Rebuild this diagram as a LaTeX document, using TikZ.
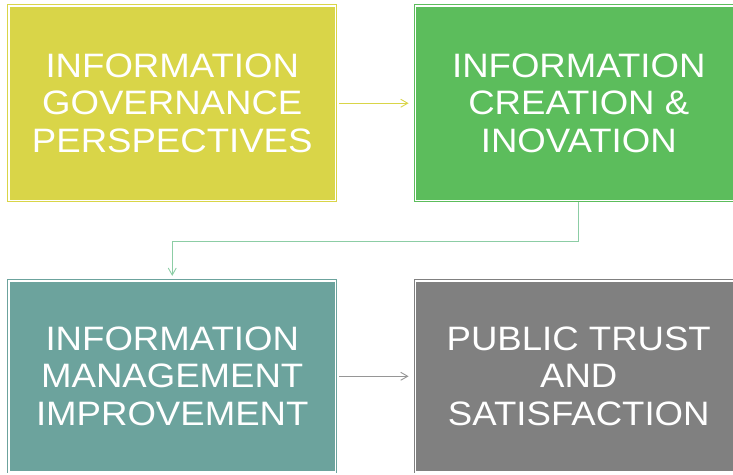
\documentclass[tikz,border=0pt]{standalone}
\usepackage{xcolor}
\usepackage{fontspec}
\usepackage{tikz}
\usetikzlibrary{arrows.meta}
\newfontfamily\boxfont[FakeStretch=1.08]{Liberation Sans}
\definecolor{yellowbox}{RGB}{217,213,72}
\definecolor{greenbox}{RGB}{92,189,92}
\definecolor{tealbox}{RGB}{108,163,157}
\definecolor{graybox}{RGB}{128,128,128}
\definecolor{elbowline}{RGB}{140,205,165}
\definecolor{grayline}{RGB}{150,150,150}

\begin{document}
\begin{tikzpicture}[x=1bp,y=1bp,
    infobox/.style={rectangle,inner sep=0pt,minimum width=326.5bp,
        line width=0.8bp,double=white,double distance=1.6bp,
        text=white,align=center,font=\boxfont\fontsize{34}{37.7}\selectfont},
    link/.style={line width=0.9bp,-{Straight Barb[length=7bp,width=8bp]}}]
    \clip (0,0) rectangle (733,475);
    \useasboundingbox (0,0) rectangle (733,475);
    \node[infobox,minimum height=194.5bp,draw=yellowbox,fill=yellowbox] (1) at (172.25,371.75) {INFORMATION\\GOVERNANCE\\PERSPECTIVES};
    \node[infobox,minimum height=194.5bp,draw=greenbox,fill=greenbox] (2) at (578.75,371.75) {INFORMATION\\CREATION \&\\INOVATION};
    \node[infobox,minimum height=191bp,draw=tealbox,fill=tealbox] (3) at (172.25,98.7) {INFORMATION\\MANAGEMENT\\IMPROVEMENT};
    \node[infobox,minimum height=191bp,draw=graybox,fill=graybox] (4) at (578.75,98.7) {PUBLIC TRUST\\AND\\SATISFACTION};
    \draw[link,yellowbox,shorten <=3.5bp,shorten >=6.5bp] (1) -- (2);
    \draw[link,elbowline,shorten <=1.5bp,shorten >=4.5bp] (2.south) -- ++(0,-40.2) -| (3.north);
    \draw[link,grayline,shorten <=3.5bp,shorten >=6.5bp] (3) -- (4);
\end{tikzpicture}
\end{document}
